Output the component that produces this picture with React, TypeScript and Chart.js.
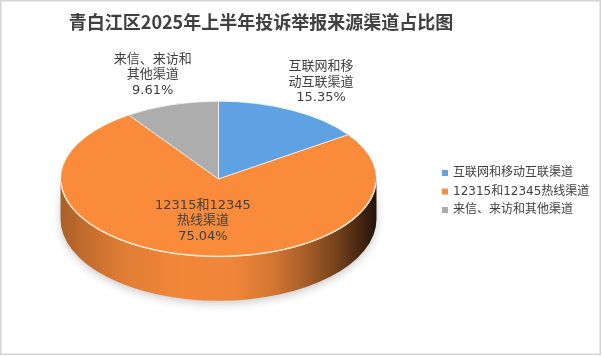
import React, { useEffect, useRef } from 'react';
import { Chart, registerables } from 'chart.js';

Chart.register(...registerables);

const titleText = '青白江区2025年上半年投诉举报来源渠道占比图';
const categories = ['互联网和移动互联渠道', '12315和12345热线渠道', '来信、来访和其他渠道'];
const shares = [15.35, 75.04, 9.61];
const sliceLabelLines = [
  ['互联网和移', '动互联渠道'],
  ['12315和12345', '热线渠道'],
  ['来信、来访和', '其他渠道'],
];
const colors = ['#5FA2E3', '#F98B3B', '#ADADAD'];

const TILT = 0.492;
const DEPTH = 40;
const BOTTOM_GROW = 4;
const CY = 179;
const TEXT = '#404040';
const LABEL_FONT = '13px "DejaVu Sans", "Noto Sans CJK SC", sans-serif';
const LEGEND_FONT = '12px "DejaVu Sans", "Noto Sans CJK SC", sans-serif';

function hexToRgb(h: string) {
  const n = parseInt(h.slice(1), 16);
  return [(n >> 16) & 255, (n >> 8) & 255, n & 255];
}
function shade(hex: string, f: number) {
  const [r, g, b] = hexToRgb(hex);
  const c = (v: number) => Math.max(0, Math.min(255, Math.round(v * f)));
  return `rgb(${c(r)},${c(g)},${c(b)})`;
}

const sideStops: [number, number][] = [
  [0, 0.68], [0.06, 0.76], [0.2, 0.9], [0.38, 0.97], [0.55, 0.96], [0.68, 0.84],
  [0.78, 0.66], [0.87, 0.48], [0.94, 0.3], [1, 0.14],
];

const pie3d = {
  id: 'pie3d',
  beforeDraw(chart: any) {
    const ctx = chart.ctx;
    ctx.save();
    ctx.fillStyle = '#ffffff';
    ctx.fillRect(0, 0, chart.width, chart.height);
    ctx.restore();
  },
  beforeDatasetsDraw(chart: any) {
    const ctx = chart.ctx as CanvasRenderingContext2D;
    const meta = chart.getDatasetMeta(0);
    const a0 = meta.data[0] as any;
    const cx = a0.x, cy0 = a0.y, rx = a0.outerRadius, ry = rx * TILT;
    const ryb = ry + BOTTOM_GROW;
    const TWO = Math.PI * 2;
    meta.data.forEach((arc: any, i: number) => {
      const a = arc.startAngle, b = arc.endAngle;
      for (const off of [-TWO, 0, TWO]) {
        const s = Math.max(a, off), e = Math.min(b, off + Math.PI);
        if (e <= s) continue;
        const grad = ctx.createLinearGradient(cx - rx, 0, cx + rx, 0);
        sideStops.forEach(([t, f]) => grad.addColorStop(t, shade(colors[i], f)));
        ctx.save();
        ctx.beginPath();
        ctx.ellipse(cx, CY, rx, ry, 0, s, e, false);
        ctx.lineTo(cx + rx * Math.cos(e), CY + DEPTH + ryb * Math.sin(e));
        ctx.ellipse(cx, CY + DEPTH, rx, ryb, 0, e, s, true);
        ctx.closePath();
        ctx.shadowColor = 'rgba(0,0,0,0.2)';
        ctx.shadowBlur = 8;
        ctx.shadowOffsetY = 3;
        ctx.fillStyle = grad;
        ctx.fill();
        ctx.restore();
      }
    });
    ctx.save();
    ctx.translate(0, CY);
    ctx.scale(1, TILT);
    ctx.translate(0, -cy0);
  },
  afterDatasetsDraw(chart: any) {
    const ctx = chart.ctx as CanvasRenderingContext2D;
    ctx.restore();
    const meta = chart.getDatasetMeta(0);
    const a0 = meta.data[0] as any;
    const cx = a0.x, rx = a0.outerRadius, ry = rx * TILT;
    ctx.save();
    ctx.beginPath();
    ctx.ellipse(cx, CY, rx - 0.5, ry - 0.5, 0, 0.05, Math.PI - 0.05, false);
    ctx.strokeStyle = 'rgba(255,236,215,0.9)';
    ctx.lineWidth = 1.2;
    ctx.stroke();
    ctx.restore();
  },
  afterDraw(chart: any) {
    const ctx = chart.ctx as CanvasRenderingContext2D;
    const meta = chart.getDatasetMeta(0);
    const a0 = meta.data[0] as any;
    const cx = a0.x, rx = a0.outerRadius, ry = rx * TILT;
    ctx.save();
    ctx.fillStyle = TEXT;
    ctx.font = 'bold 18px "Noto Sans CJK SC", sans-serif';
    ctx.textAlign = 'center';
    ctx.textBaseline = 'middle';
    ctx.fillText(titleText, 261, 22);
    ctx.font = LABEL_FONT;
    meta.data.forEach((arc: any, i: number) => {
      const mid = (arc.startAngle + arc.endAngle) / 2;
      const f = shares[i] < 20 ? 1.4 : 0.55;
      const px = cx + Math.cos(mid) * rx * f;
      const py = CY + Math.sin(mid) * ry * f;
      const lines = [...sliceLabelLines[i], shares[i].toFixed(2) + '%'];
      const lh = 15.5;
      lines.forEach((ln, k) => {
        ctx.fillText(ln, px, py + (k - (lines.length - 1) / 2) * lh);
      });
    });
    ctx.font = LEGEND_FONT;
    ctx.textAlign = 'left';
    categories.forEach((c, i) => {
      const y = 173 + i * 18.5;
      ctx.fillStyle = colors[i];
      ctx.fillRect(442, y - 3, 6, 6);
      ctx.fillStyle = TEXT;
      ctx.fillText(c, 453, y);
    });
    ctx.strokeStyle = '#d4d4d4';
    ctx.lineWidth = 1.5;
    ctx.strokeRect(0.75, 0.75, 599.5, 353.5);
    ctx.restore();
  },
};

export default function App() {
  const ref = useRef<HTMLCanvasElement>(null);
  useEffect(() => {
    document.body.style.margin = '0';
    const chart = new Chart(ref.current!, {
      type: 'pie',
      data: {
        labels: categories,
        datasets: [
          {
            data: shares,
            backgroundColor: colors,
            borderColor: 'rgba(255,255,255,0.85)',
            borderWidth: 1,
          },
        ],
      },
      options: {
        responsive: false,
        animation: false,
        layout: { padding: { left: 60, right: 225, top: 20, bottom: 19 } },
        plugins: {
          legend: { display: false },
          title: { display: false },
          tooltip: { enabled: false },
        },
      },
      plugins: [pie3d],
    });
    return () => chart.destroy();
  }, []);
  return <canvas ref={ref} width={602} height={356} style={{ display: 'block' }} />;
}
